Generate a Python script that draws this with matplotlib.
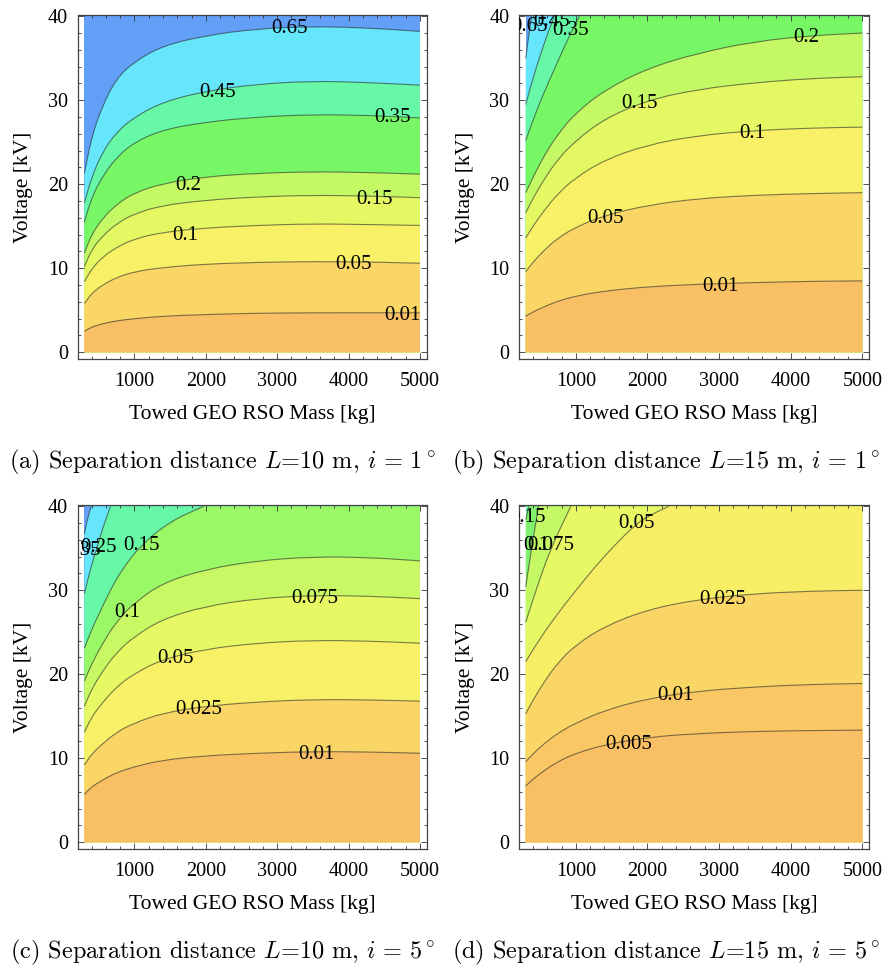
import numpy as np
import matplotlib
matplotlib.use("Agg")
import matplotlib.pyplot as plt
from matplotlib.path import Path
from matplotlib.patches import PathPatch
from matplotlib.ticker import MultipleLocator

plt.rcParams['font.family'] = 'Liberation Serif'
plt.rcParams['mathtext.fontset'] = 'cm'

# plotted region of the contour maps
MASS_MIN, MASS_MAX = 300, 5000
V_MIN, V_MAX = 0, 40

# common mass samples for the curves that reach the right edge
mass_grid = [300, 400, 550, 750, 1000, 1400, 2000, 2700, 3500, 4300, 5000]

# ---- (a) L = 10 m, i = 1 deg ----
a_levels = ['0.65', '0.45', '0.35', '0.2', '0.15', '0.1', '0.05', '0.01']
a_masses = [mass_grid] * 8
a_volts = [
    [21.3, 25.6, 29.3, 32.6, 34.6, 36.5, 37.7, 38.5, 38.8, 38.6, 38.2],
    [17.8, 20.8, 23.8, 26.2, 28.0, 29.8, 31.1, 31.9, 32.3, 32.1, 31.8],
    [15.5, 18.4, 20.9, 23.2, 25.0, 26.5, 27.4, 28.0, 28.3, 28.2, 27.9],
    [11.8, 14.0, 15.9, 17.6, 19.0, 20.1, 20.9, 21.3, 21.5, 21.4, 21.2],
    [10.2, 12.2, 13.8, 15.3, 16.5, 17.5, 18.1, 18.5, 18.7, 18.6, 18.4],
    [8.4, 9.9, 11.3, 12.5, 13.5, 14.3, 14.8, 15.1, 15.3, 15.2, 15.1],
    [5.8, 7.0, 8.0, 8.9, 9.6, 10.1, 10.5, 10.7, 10.8, 10.75, 10.6],
    [2.5, 3.0, 3.4, 3.75, 4.0, 4.3, 4.5, 4.65, 4.7, 4.7, 4.7],
]
a_label_xy = [(3175, 38.8), (2162, 31.2), (4617, 28.2), (1761, 20.2),
              (4362, 18.5), (1715, 14.2), (4064, 10.7), (4757, 4.7)]

# ---- (b) L = 15 m, i = 1 deg ----
b_levels = ['0.65', '0.45', '0.35', '0.2', '0.15', '0.1', '0.05', '0.01']
b_masses = [
    [300, 340, 385],
    [300, 400, 500, 600, 700],
    [300, 400, 533, 767, 900, 1050],
    mass_grid, mass_grid, mass_grid, mass_grid, mass_grid,
]
b_volts = [
    [35.0, 37.6, 40.0],
    [29.5, 32.6, 35.3, 37.8, 40.0],
    [25.2, 27.6, 30.5, 35.0, 37.5, 40.0],
    [19.0, 20.8, 23.3, 26.0, 28.5, 31.2, 33.8, 35.6, 37.0, 37.7, 38.0],
    [16.6, 18.3, 20.5, 23.0, 25.2, 27.8, 30.0, 31.3, 32.1, 32.6, 32.8],
    [13.6, 15.0, 16.8, 18.9, 20.8, 22.9, 24.7, 25.8, 26.4, 26.7, 26.8],
    [9.6, 10.7, 12.1, 13.6, 14.9, 16.3, 17.5, 18.3, 18.7, 18.9, 19.0],
    [4.3, 4.8, 5.4, 6.1, 6.7, 7.3, 7.8, 8.1, 8.3, 8.45, 8.5],
]
b_label_xy = [(350, 39.1), (660, 39.7), (930, 38.6), (4221, 37.8),
              (1888, 29.9), (3465, 26.3), (1412, 16.2), (3013, 8.1)]

# ---- (c) L = 10 m, i = 5 deg ----
c_levels = ['0.35', '0.25', '0.15', '0.1', '0.075', '0.05', '0.025', '0.01']
c_masses = [
    [300, 340, 395],
    [300, 380, 465, 560, 665],
    [300, 400, 521, 680, 838, 1094, 1500, 1970],
    mass_grid, mass_grid, mass_grid, mass_grid, mass_grid,
]
c_volts = [
    [36.7, 38.4, 40.0],
    [29.6, 32.4, 34.8, 37.5, 40.0],
    [23.1, 25.3, 27.5, 30.3, 32.6, 35.4, 38.2, 40.0],
    [19.2, 21.2, 23.6, 26.3, 28.5, 30.9, 32.5, 33.5, 34.0, 33.9, 33.5],
    [16.2, 18.2, 20.3, 22.6, 24.5, 26.6, 28.1, 29.0, 29.4, 29.3, 29.0],
    [13.1, 14.9, 16.6, 18.5, 20.1, 21.8, 23.0, 23.7, 24.05, 23.95, 23.7],
    [9.2, 10.5, 11.7, 13.1, 14.2, 15.4, 16.2, 16.7, 17.0, 16.95, 16.8],
    [5.7, 6.6, 7.4, 8.3, 9.0, 9.8, 10.3, 10.6, 10.8, 10.75, 10.6],
]
c_label_xy = [(277, 35.0), (500, 35.4), (1094, 35.6), (895, 27.6),
              (3524, 29.3), (1571, 22.2), (1894, 16.1), (3547, 10.7)]

# ---- (d) L = 15 m, i = 5 deg ----
d_levels = ['0.15', '0.1', '0.075', '0.05', '0.025', '0.01', '0.005']
d_masses = [
    [300, 345],
    [300, 390, 480],
    [300, 450, 650, 930],
    [300, 450, 673, 1000, 1250, 1500, 1840, 2050, 2300],
    mass_grid, mass_grid, mass_grid,
]
d_volts = [
    [38.4, 40.0],
    [30.4, 35.5, 40.0],
    [26.2, 30.2, 35.0, 40.0],
    [21.5, 23.6, 26.4, 30.0, 32.6, 35.0, 37.9, 39.0, 40.0],
    [15.3, 16.9, 19.0, 21.4, 23.5, 25.7, 27.7, 28.9, 29.6, 29.9, 30.0],
    [9.6, 10.5, 11.7, 13.0, 14.2, 15.7, 17.1, 18.0, 18.5, 18.8, 18.9],
    [6.7, 7.5, 8.5, 9.6, 10.6, 11.6, 12.5, 12.95, 13.2, 13.3, 13.35],
]
d_label_xy = [(321, 39.0), (452, 35.6), (650, 35.6), (1840, 38.3),
              (3057, 29.2), (2389, 17.8), (1735, 11.9)]

# band colours, top band first
a_colors = ['#62A0F8', '#66E6FA', '#66F8A6', '#78F766', '#C4F864',
            '#E4F864', '#F8F066', '#F9D666', '#F9BF64']
b_colors = a_colors
c_colors = ['#62A0F8', '#66E6FA', '#66F8A6', '#9AF866', '#C8F864',
            '#E6F864', '#F8F066', '#F9D666', '#F9BF64']
d_colors = ['#66F0A0', '#80F26E', '#C4F864', '#E6F864', '#F8EE66',
            '#F9D666', '#F9C864', '#F9BF64']

captions = [
    r'(a) Separation distance $L$=10 m, $i\,=\,1^\circ$',
    r'(b) Separation distance $L$=15 m, $i\,=\,1^\circ$',
    r'(c) Separation distance $L$=10 m, $i\,=\,5^\circ$',
    r'(d) Separation distance $L$=15 m, $i\,=\,5^\circ$',
]

panels = [
    (a_levels, a_masses, a_volts, a_colors, a_label_xy),
    (b_levels, b_masses, b_volts, b_colors, b_label_xy),
    (c_levels, c_masses, c_volts, c_colors, c_label_xy),
    (d_levels, d_masses, d_volts, d_colors, d_label_xy),
]

W, H = 886, 966
fig = plt.figure(figsize=(W / 100, H / 100), dpi=100)

# axes boxes in pixels: left, top, width, height
boxes = [(77.7, 15, 349, 344), (519, 15, 350, 344),
         (77.7, 505, 349, 344), (519, 505, 350, 344)]
caption_xy = [(222.5, 462), (666, 462), (222.5, 952), (666, 952)]


def curve_path(xs, ys):
    # quadratic b-spline through the read points, only for a smooth look
    pts = np.column_stack([xs, ys]).astype(float)
    verts = [pts[0]]
    codes = [Path.MOVETO]
    if len(pts) > 2:
        mids = (pts[:-1] + pts[1:]) / 2
        verts.append(mids[0])
        codes.append(Path.LINETO)
        for i in range(1, len(pts) - 1):
            verts += [pts[i], mids[i]]
            codes += [Path.CURVE3, Path.CURVE3]
    verts.append(pts[-1])
    codes.append(Path.LINETO)
    return verts, codes


def draw_panel(ax, levels, masses, volts, colors, label_xy):
    # painter's approach: top band first, then fill below each curve
    ax.fill([MASS_MIN, MASS_MAX, MASS_MAX, MASS_MIN],
            [V_MIN, V_MIN, V_MAX, V_MAX], color=colors[0], lw=0)
    for k in range(len(levels)):
        verts, codes = curve_path(masses[k], volts[k])
        if masses[k][-1] < MASS_MAX:
            verts.append((MASS_MAX, V_MAX))
            codes.append(Path.LINETO)
        verts += [(MASS_MAX, V_MIN), (MASS_MIN, V_MIN), (0, 0)]
        codes += [Path.LINETO, Path.LINETO, Path.CLOSEPOLY]
        ax.add_patch(PathPatch(Path(verts, codes), facecolor=colors[k + 1],
                               edgecolor='none', lw=0))
    for k in range(len(levels)):
        verts, codes = curve_path(masses[k], volts[k])
        ax.add_patch(PathPatch(Path(verts, codes), facecolor='none',
                               edgecolor='#2a2a2a', lw=0.8, alpha=0.6))
    for txt, (mx, vy) in zip(levels, label_xy):
        ax.text(mx, vy, txt, ha='center', va='center_baseline',
                fontsize=15, clip_on=True)

    ax.set_xlim(206, 5094)
    ax.set_ylim(-0.8, 40.15)
    ax.xaxis.set_major_locator(MultipleLocator(1000))
    ax.xaxis.set_minor_locator(MultipleLocator(200))
    ax.yaxis.set_major_locator(MultipleLocator(10))
    ax.yaxis.set_minor_locator(MultipleLocator(2))
    ax.tick_params(which='both', direction='in', top=True, right=True,
                   width=0.6, color='#333333')
    ax.tick_params(which='major', length=4.5, labelsize=14.5)
    ax.tick_params(which='minor', length=2.5)
    ax.tick_params(axis='x', pad=9)
    ax.tick_params(axis='y', pad=7)
    for sp in ax.spines.values():
        sp.set_linewidth(0.9)
        sp.set_color('#444444')

    ax.set_xlabel('Towed GEO RSO Mass [kg]', fontsize=15.5)
    ax.set_ylabel('Voltage [kV]', fontsize=15.5)
    ax.xaxis.set_label_coords(0.5, -0.134)
    ax.yaxis.set_label_coords(-0.127, 0.5)


for (l, t, w, h), panel, cap, (cx, cy) in zip(boxes, panels, captions, caption_xy):
    ax = fig.add_axes([l / W, 1 - (t + h) / H, w / W, h / H])
    draw_panel(ax, *panel)
    fig.text(cx / W, 1 - cy / H, cap, ha='center', va='center',
             fontsize=17.5, family='cmr10')

fig.savefig('out.png', dpi=100)
